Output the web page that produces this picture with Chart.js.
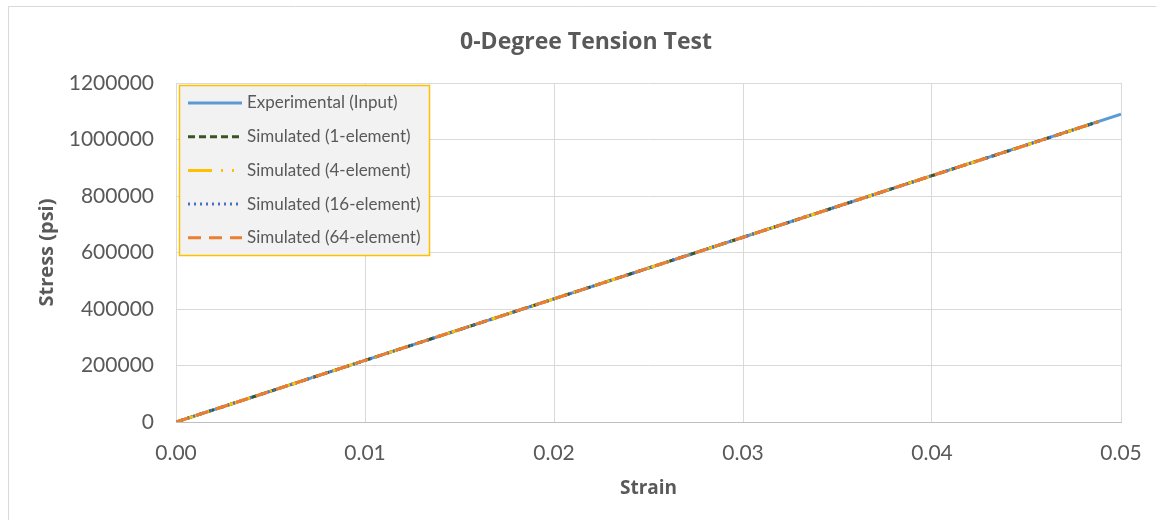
<!DOCTYPE html>
<html>
<head>
<meta charset="utf-8">
<script src="https://cdn.jsdelivr.net/npm/chart.js@4"></script>
<style>
  body { margin: 0; background: #fff; }
  canvas { display: block; }
</style>
</head>
<body>
<canvas id="myChart" width="1156" height="520"></canvas>
<script>
// values
var expStrain = [0, 0.01, 0.02, 0.03, 0.04, 0.05];
var expStress = [0, 218000, 436000, 654000, 872000, 1090000];

var simStrain = [0, 0.01, 0.02, 0.03, 0.04, 0.0488];
var sim1Stress = [0, 218000, 436000, 654000, 872000, 1063000];
var sim4Stress = [0, 218000, 436000, 654000, 872000, 1063000];
var sim16Stress = [0, 218000, 436000, 654000, 872000, 1063000];
var sim64Stress = [0, 218000, 436000, 654000, 872000, 1063000];

var seriesNames = ['Experimental (Input)', 'Simulated (1-element)', 'Simulated (4-element)',
                   'Simulated (16-element)', 'Simulated (64-element)'];

var chartTitle = '0-Degree Tension Test';
var xTicks = [0, 0.01, 0.02, 0.03, 0.04, 0.05];
var yTicks = [0, 200000, 400000, 600000, 800000, 1000000, 1200000];

function toPoints(xs, ys) {
    var pts = [];
    for (var i = 0; i < xs.length; i++) {
        pts.push({ x: xs[i], y: ys[i] });
    }
    return pts;
}

const txt = '#595959';
const fontName = 'Lato';
const boldName = '"Open Sans"';

// frame round the whole chart, the title, and the legend box inside the plot
const decor = {
    id: 'decor',
    beforeDraw(chart) {
        const c = chart.ctx;
        c.save();
        c.fillStyle = '#fff';
        c.fillRect(0, 0, chart.width, chart.height);
        c.strokeStyle = '#D9D9D9';
        c.lineWidth = 1;
        c.beginPath();
        c.moveTo(8.5, 520);
        c.lineTo(8.5, 6.5);
        c.lineTo(1156, 6.5);
        c.stroke();
        c.restore();
    },
    afterDraw(chart) {
        const c = chart.ctx;
        c.save();
        // title
        c.font = 'bold 23px ' + boldName;
        c.fillStyle = txt;
        c.textAlign = 'center';
        c.textBaseline = 'middle';
        c.fillText(chartTitle, 586, 42);

        // legend
        c.fillStyle = '#F2F2F2';
        c.fillRect(179, 85, 250, 170);
        c.strokeStyle = '#FFC000';
        c.lineWidth = 1.5;
        c.strokeRect(179.5, 85.5, 250, 170);
        c.font = '17px ' + fontName;
        c.textAlign = 'left';
        c.fillStyle = txt;
        chart.data.datasets.forEach(function (ds, i) {
            const y = 103 + i * 33.7;
            c.save();
            c.strokeStyle = ds.borderColor;
            c.lineWidth = ds.borderWidth;
            c.lineCap = 'butt';
            c.setLineDash(ds.borderDash || []);
            c.beginPath();
            c.moveTo(188, y);
            c.lineTo(242, y);
            c.stroke();
            c.restore();
            c.fillText(ds.label, 247, y);
        });
        c.restore();
    }
};

const ctx = document.getElementById('myChart');

new Chart(ctx, {
    type: 'line',
    data: {
        datasets: [{
            label: seriesNames[0],
            data: toPoints(expStrain, expStress),
            borderColor: '#5B9BD5',
            borderWidth: 3,
            order: 4
        }, {
            label: seriesNames[1],
            data: toPoints(simStrain, sim1Stress),
            borderColor: '#375623',
            borderWidth: 3,
            borderDash: [7, 4],
            order: 3
        }, {
            label: seriesNames[2],
            data: toPoints(simStrain, sim4Stress),
            borderColor: '#FFC000',
            borderWidth: 3,
            borderDash: [24, 9, 2, 9, 2, 9],
            order: 2
        }, {
            label: seriesNames[3],
            data: toPoints(simStrain, sim16Stress),
            borderColor: '#4472C4',
            borderWidth: 3,
            borderDash: [2, 4],
            order: 1
        }, {
            label: seriesNames[4],
            data: toPoints(simStrain, sim64Stress),
            borderColor: '#ED7D31',
            borderWidth: 3,
            borderDash: [13, 8],
            order: 0
        }]
    },
    options: {
        responsive: false,
        animation: false,
        devicePixelRatio: 1,
        layout: { padding: { left: 0, right: 35, top: 83, bottom: 0 } },
        elements: {
            point: { radius: 0 },
            line: { tension: 0, fill: false }
        },
        plugins: {
            legend: { display: false },
            tooltip: { enabled: false },
            title: { display: false }
        },
        scales: {
            x: {
                type: 'linear',
                min: 0,
                max: 0.05,
                afterBuildTicks(scale) {
                    scale.ticks = xTicks.map(v => ({ value: v }));
                },
                afterFit(scale) {
                    scale.height = 98;
                    scale.paddingLeft = 0;
                    scale.paddingRight = 0;
                },
                ticks: {
                    color: txt,
                    font: { family: fontName, size: 21 },
                    padding: 19,
                    maxRotation: 0,
                    callback: v => v.toFixed(2)
                },
                grid: { color: '#D9D9D9', drawTicks: false },
                border: { color: '#BFBFBF', width: 1 },
                title: {
                    display: true,
                    text: 'Strain',
                    color: txt,
                    font: { family: boldName, size: 19, weight: 'bold' },
                    padding: { top: 0, bottom: 20 }
                }
            },
            y: {
                min: 0,
                max: 1200000,
                afterBuildTicks(scale) {
                    scale.ticks = yTicks.map(v => ({ value: v }));
                },
                afterFit(scale) { scale.width = 176; },
                ticks: {
                    color: txt,
                    font: { family: fontName, size: 21 },
                    padding: 22,
                    callback: v => String(v)
                },
                grid: { color: '#D9D9D9', drawTicks: false },
                border: { display: false },
                title: {
                    display: true,
                    text: 'Stress (psi)',
                    color: txt,
                    font: { family: boldName, size: 20, weight: 'bold' },
                    padding: { top: 35, bottom: 0 }
                }
            }
        }
    },
    plugins: [decor]
});
</script>
</body>
</html>
